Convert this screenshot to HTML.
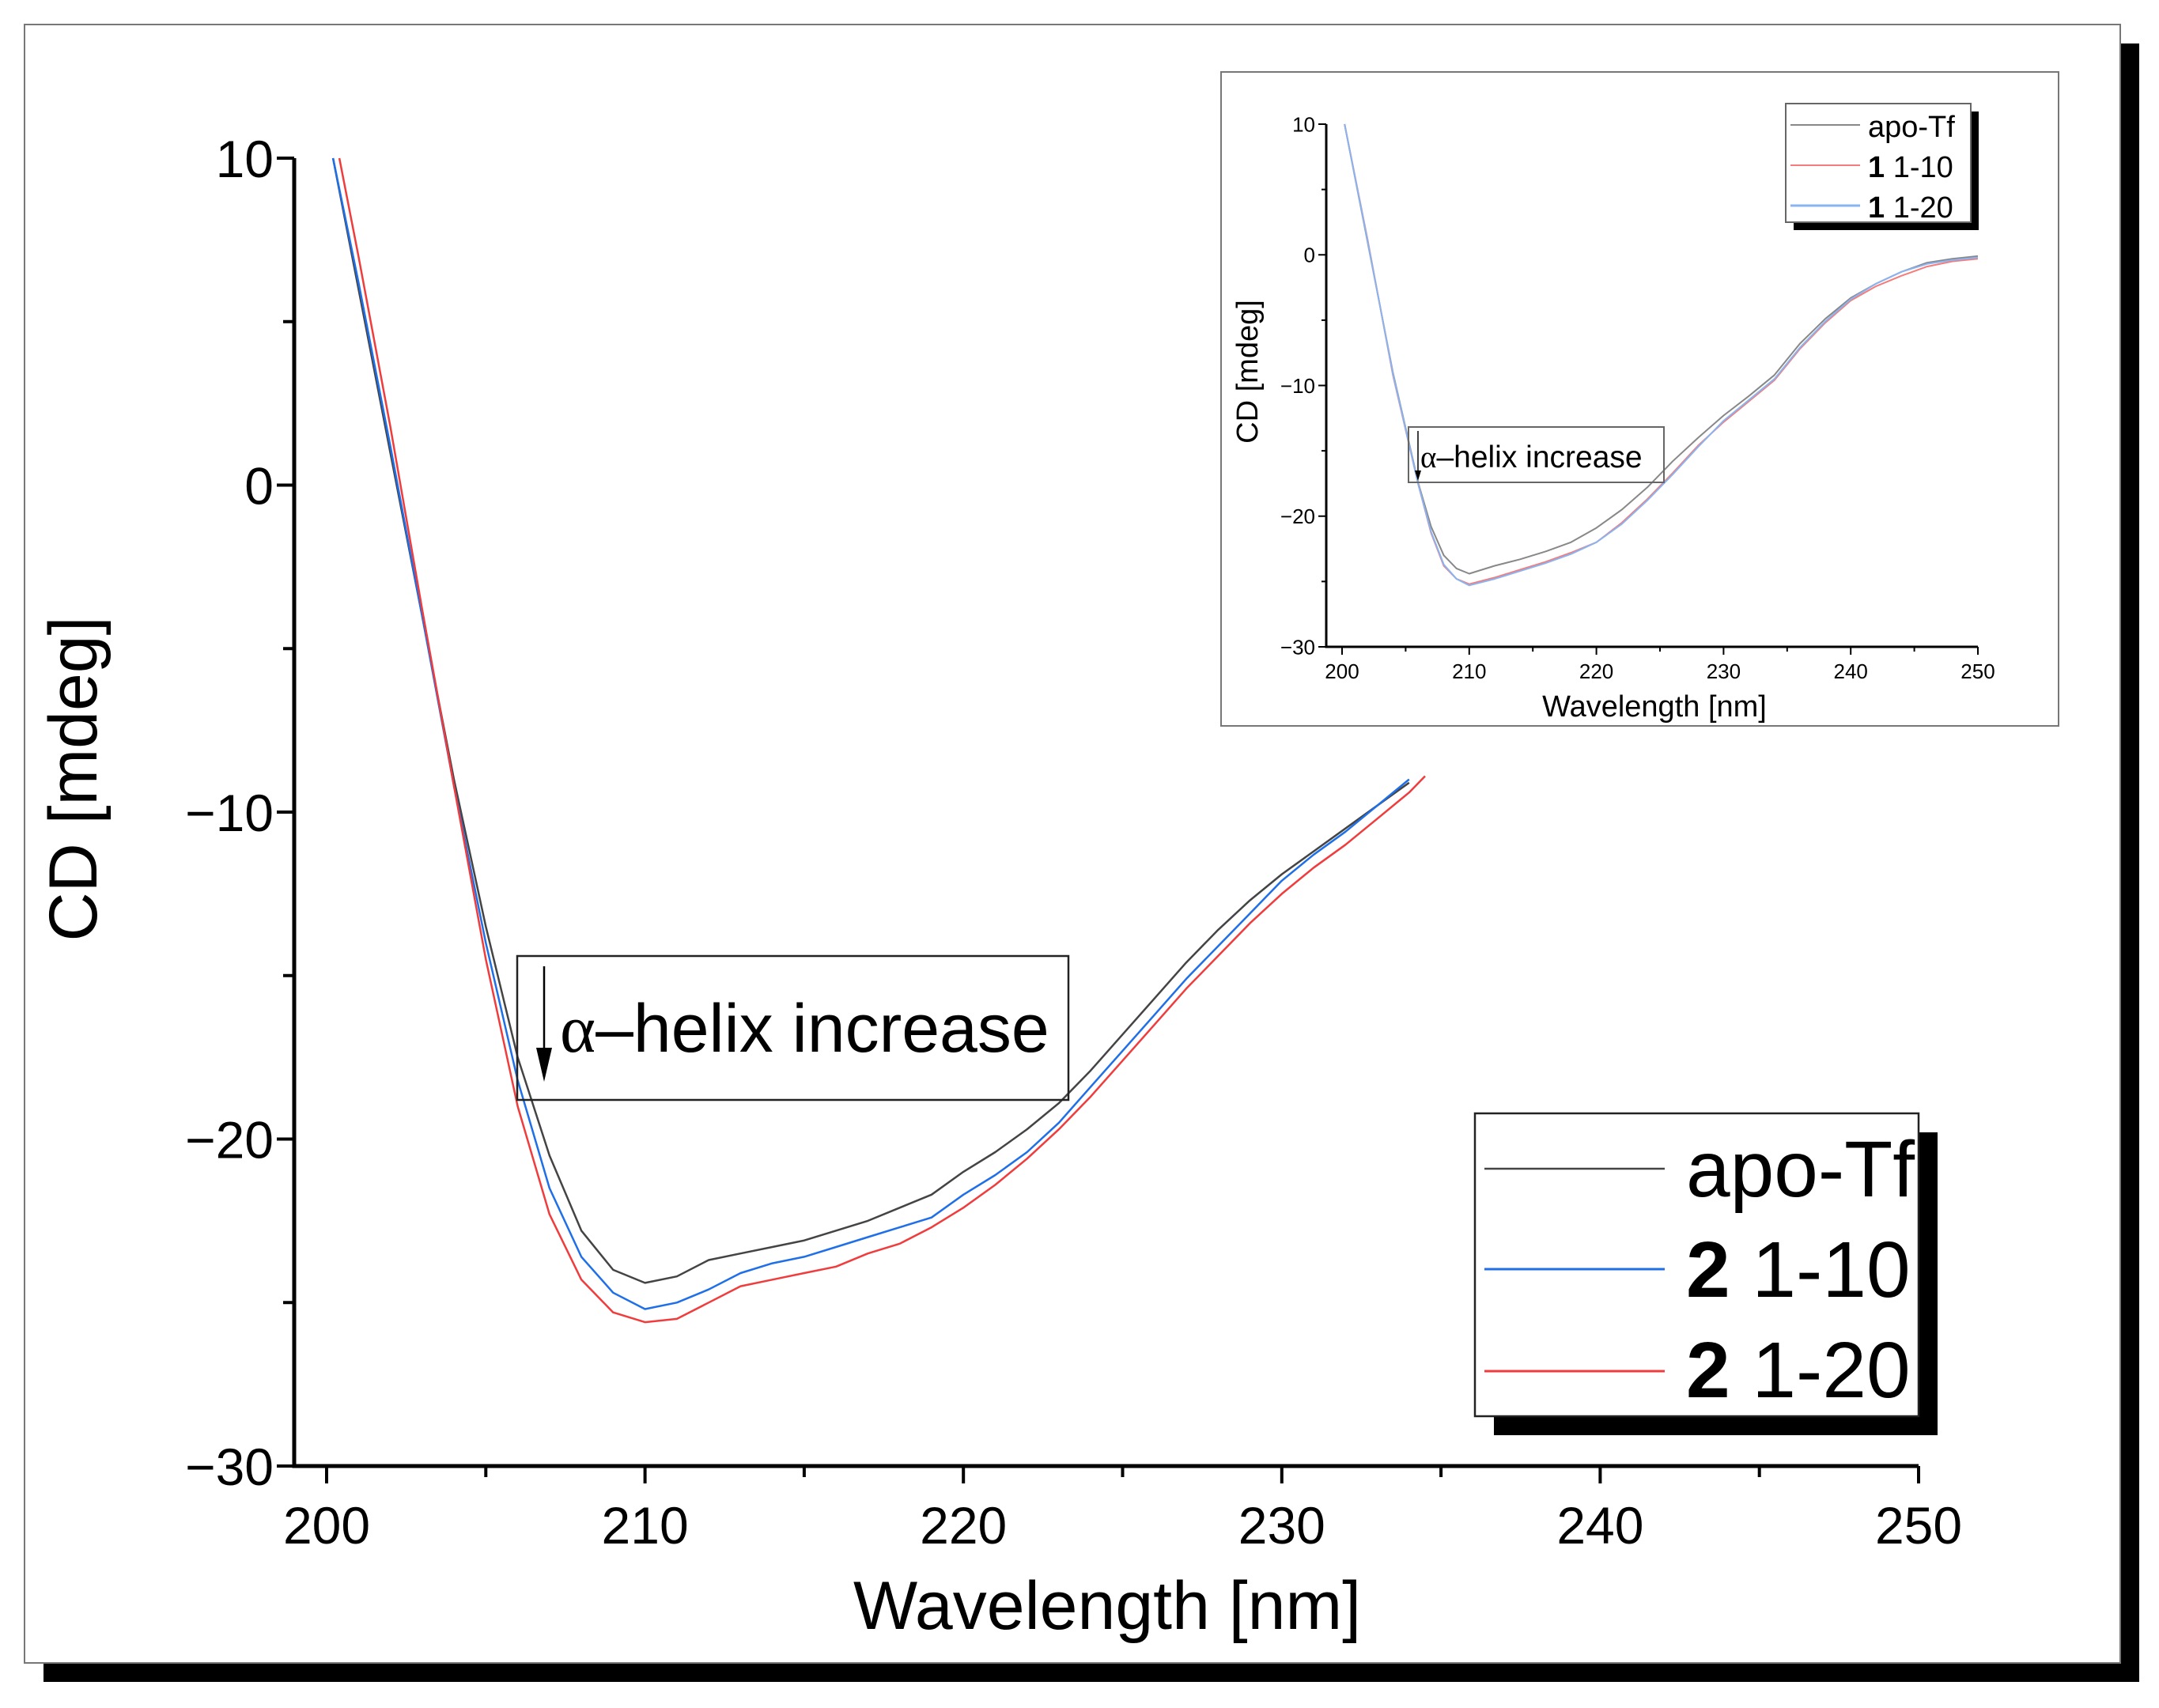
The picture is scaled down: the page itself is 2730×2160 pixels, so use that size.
<!DOCTYPE html>
<html><head><meta charset="utf-8"><style>
html,body{margin:0;padding:0;background:#fff;}
svg{display:block;font-family:"Liberation Sans",sans-serif;}
</style></head><body>
<svg id="svg" width="2730" height="2160" viewBox="0 0 2730 2160" xmlns="http://www.w3.org/2000/svg">
  <rect x="55" y="55" width="2650" height="2072" fill="#000"/>
  <rect x="31" y="31" width="2650" height="2072" fill="#fff" stroke="#777" stroke-width="2"/>
  <g id="main"></g>
  <rect x="654" y="1209" width="697" height="182" fill="none" stroke="#222" stroke-width="2.5"/>
  <line x1="688" y1="1222" x2="688" y2="1330" stroke="#000" stroke-width="2.5"/>
  <polygon points="678,1325 698,1325 688,1368" fill="#000"/>
  <text x="708" y="1330" font-size="86" fill="#000"><tspan font-family="Liberation Serif,serif">α</tspan>–helix increase</text>
  <rect x="1889" y="1432" width="561" height="383" fill="#000"/>
  <rect x="1865" y="1408" width="561" height="383" fill="#fff" stroke="#222" stroke-width="2.5"/>
  <line x1="1877" y1="1478" x2="2105" y2="1478" stroke="#444" stroke-width="2.5"/>
  <line x1="1877" y1="1605" x2="2105" y2="1605" stroke="#1f6fe8" stroke-width="3"/>
  <line x1="1877" y1="1734" x2="2105" y2="1734" stroke="#f03c3c" stroke-width="3"/>
  <text x="2132" y="1513" font-size="100">apo-Tf</text>
  <text x="2132" y="1640" font-size="100"><tspan font-weight="bold">2</tspan> 1-10</text>
  <text x="2132" y="1767" font-size="100"><tspan font-weight="bold">2</tspan> 1-20</text>

  <rect x="1544" y="91" width="1059" height="827" fill="#fff" stroke="#777" stroke-width="2"/>
  <g id="inset"></g>
  <rect x="1781" y="540" width="323" height="70" fill="none" stroke="#666" stroke-width="2"/>
  <line x1="1793" y1="545" x2="1793" y2="600" stroke="#000" stroke-width="1.5"/>
  <polygon points="1789,595 1797,595 1793,608" fill="#000"/>
  <text x="1796" y="591" font-size="39"><tspan font-family="Liberation Serif,serif">α</tspan>–helix increase</text>
  <rect x="2268" y="141" width="234" height="150" fill="#000"/>
  <rect x="2258" y="131" width="234" height="150" fill="#fff" stroke="#666" stroke-width="2"/>
  <line x1="2264" y1="158" x2="2352" y2="158" stroke="#888" stroke-width="2"/>
  <line x1="2264" y1="209" x2="2352" y2="209" stroke="#f47c7c" stroke-width="2"/>
  <line x1="2264" y1="260" x2="2352" y2="260" stroke="#8ab4f0" stroke-width="3"/>
  <text x="2362" y="173" font-size="38">apo-Tf</text>
  <text x="2362" y="224" font-size="38"><tspan font-weight="bold">1</tspan> 1-10</text>
  <text x="2362" y="275" font-size="38"><tspan font-weight="bold">1</tspan> 1-20</text>
</svg>
<script>
const mainX = [200.2,201,202,203,204,205,206,207,208,209,210,211,212,213,214,215,216,217,218,219,220,221,222,223,224,225,226,227,228,229,230,231,232,233,234];
const mainApo = [10,6,1,-4,-9,-13.5,-17.5,-20.5,-22.8,-24,-24.4,-24.2,-23.7,-23.5,-23.3,-23.1,-22.8,-22.5,-22.1,-21.7,-21,-20.4,-19.7,-18.9,-17.9,-16.8,-15.7,-14.6,-13.6,-12.7,-11.9,-11.2,-10.5,-9.8,-9.1];
const main2_10 = [10,6.2,1.2,-4,-9.2,-14,-18.2,-21.5,-23.6,-24.7,-25.2,-25,-24.6,-24.1,-23.8,-23.6,-23.3,-23,-22.7,-22.4,-21.7,-21.1,-20.4,-19.5,-18.4,-17.3,-16.2,-15.1,-14.1,-13.1,-12.1,-11.3,-10.6,-9.8,-9.0];
const mainRedX = [200.4,201,202,203,204,205,206,207,208,209,210,211,212,213,214,215,216,217,218,219,220,221,222,223,224,225,226,227,228,229,230,231,232,233,234,234.5];
const main2_20 = [10,7,1.8,-3.8,-9.2,-14.5,-19,-22.3,-24.3,-25.3,-25.6,-25.5,-25,-24.5,-24.3,-24.1,-23.9,-23.5,-23.2,-22.7,-22.1,-21.4,-20.6,-19.7,-18.7,-17.6,-16.5,-15.4,-14.4,-13.4,-12.5,-11.7,-11,-10.2,-9.4,-8.9];
const insetX = [200.2,202,204,206,207,208,209,210,212,214,216,218,220,222,224,226,228,230,232,234,236,238,240,242,244,246,248,250];
const insetApo = [10,1,-9,-17.5,-20.8,-23,-24,-24.4,-23.8,-23.3,-22.7,-22,-20.9,-19.5,-17.8,-15.8,-14,-12.3,-10.8,-9.2,-6.8,-4.9,-3.3,-2.2,-1.3,-0.6,-0.3,-0.1];
const inset1_10 = [10,1.2,-9.2,-17.6,-21.3,-23.8,-24.8,-25.2,-24.7,-24.1,-23.5,-22.8,-22,-20.5,-18.7,-16.7,-14.6,-12.8,-11.2,-9.6,-7.2,-5.2,-3.5,-2.4,-1.6,-0.9,-0.5,-0.3];
const inset1_20 = [10,1.1,-9.1,-17.6,-21.2,-23.7,-24.8,-25.3,-24.8,-24.2,-23.6,-22.9,-22,-20.6,-18.8,-16.8,-14.7,-12.7,-11.1,-9.5,-7.1,-5.1,-3.4,-2.2,-1.3,-0.7,-0.4,-0.2];
const xTicks = [200,210,220,230,240,250];
const yTicks = [10,0,-10,-20,-30];
const yTickLabels = ["10","0","\u221210","\u221220","\u221230"];

const NS="http://www.w3.org/2000/svg";
function mk(parent,tag,attrs){const e=document.createElementNS(NS,tag);for(const k in attrs)e.setAttribute(k,attrs[k]);parent.appendChild(e);return e;}

function plot(g,cfg,series){
  const sx=v=>cfg.x0+(v-200)/50*(cfg.x1-cfg.x0);
  const sy=v=>cfg.y0+(10-v)/40*(cfg.y1-cfg.y0);
  series.forEach(s=>{
    const d=s.x.map((xv,i)=>(i?'L':'M')+sx(xv).toFixed(1)+','+sy(s.y[i]).toFixed(1)).join('');
    const p=mk(g,'path',{d:d,fill:'none',stroke:s.c,'stroke-width':cfg.lw,'stroke-linejoin':'round'});
    
    
  });
  const ax=mk(g,'path',{d:'M'+cfg.ax+','+sy(10)+'V'+cfg.y1+'H'+sx(250),fill:'none',stroke:'#000','stroke-width':cfg.aw});
  
  
  for(let v=-30;v<=10;v+=5){
    const major=v%10===0;
    const t=mk(g,'line',{x1:cfg.ax,x2:cfg.ax-(major?cfg.tl:cfg.tm),y1:sy(v),y2:sy(v),stroke:'#000','stroke-width':cfg.tw});
    
    
  }
  for(let v=200;v<=250;v+=5){
    const major=v%10===0;
    const t=mk(g,'line',{x1:sx(v),x2:sx(v),y1:cfg.y1,y2:cfg.y1+(major?cfg.tl:cfg.tm),stroke:'#000','stroke-width':cfg.tw});
    
    
  }
  yTicks.forEach((v,i)=>{
    const t=mk(g,'text',{x:cfg.ax-cfg.tl-4,y:sy(v)+cfg.fs*0.36,'text-anchor':'end','font-size':cfg.fs});
    t.textContent=yTickLabels[i];
    
    
  });
  xTicks.forEach(v=>{
    const t=mk(g,'text',{x:sx(v),y:cfg.y1+cfg.tl+cfg.fs*1.15,'text-anchor':'middle','font-size':cfg.fs});
    t.textContent=String(v);
    
    
  });
  const xt=mk(g,'text',{x:cfg.xtx,y:cfg.xty,'text-anchor':'middle','font-size':cfg.ts});
  xt.textContent='Wavelength [nm]';
  
  
  const yc=cfg.ytc;
  const yt=mk(g,'text',{x:cfg.ytx,y:yc,'text-anchor':'middle','font-size':cfg.ts,transform:'rotate(-90 '+cfg.ytx+' '+yc+')'});
  yt.textContent='CD [mdeg]';
  
  
}

plot(document.getElementById('main'),
 {x0:413,x1:2426,y0:200,y1:1854,ax:372,lw:2.5,aw:5,tw:4,tl:22,tm:14,fs:66,ts:86,xtx:1400,xty:2060,ytx:122,ytc:985},
 [{x:mainX,y:mainApo,c:'#444',n:'line-apo-tf'},{x:mainX,y:main2_10,c:'#1f6fe8',n:'line-2-1-10'},{x:mainRedX,y:main2_20,c:'#f03c3c',n:'line-2-1-20'}]);
plot(document.getElementById('inset'),
 {x0:1697,x1:2501,y0:157,y1:818,ax:1677,lw:2,aw:3,tw:2,tl:10,tm:6,fs:26,ts:38,xtx:2092,xty:906,ytx:1590,ytc:470},
 [{x:insetX,y:insetApo,c:'#888',n:'inset-line-apo-tf'},{x:insetX,y:inset1_10,c:'#f47c7c',n:'inset-line-1-1-10'},{x:insetX,y:inset1_20,c:'#8ab4f0',n:'inset-line-1-1-20'}]);
</script>
</body></html>
